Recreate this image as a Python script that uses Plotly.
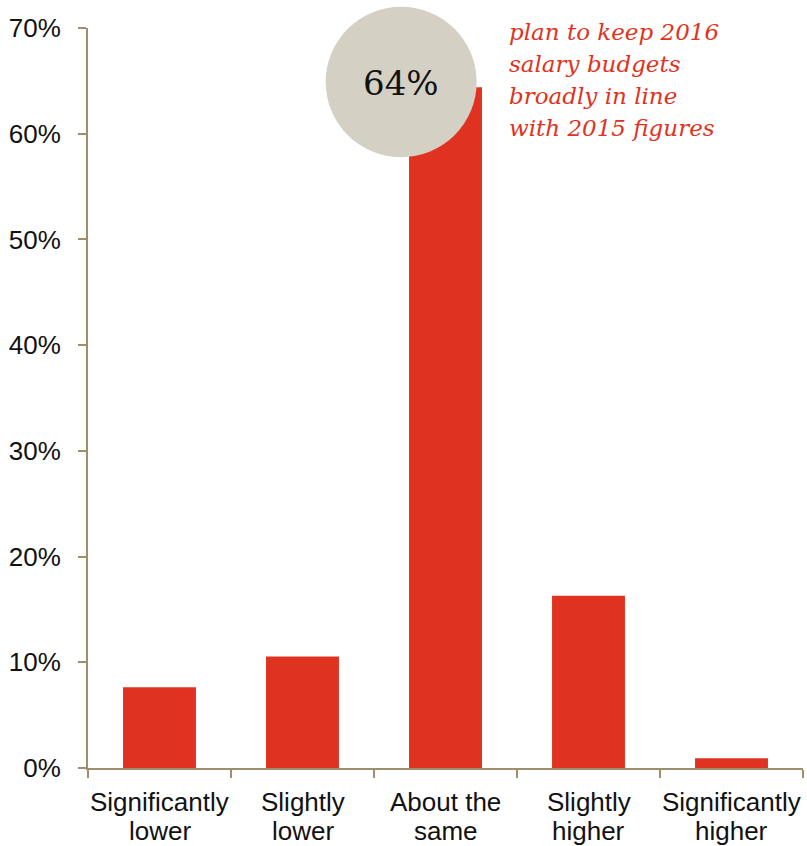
import plotly.graph_objects as go

categories = ["Significantly lower", "Slightly lower", "About the same",
              "Slightly higher", "Significantly higher"]
label_lines = [["Significantly", "lower"], ["Slightly", "lower"], ["About the", "same"],
               ["Slightly", "higher"], ["Significantly", "higher"]]
values = [7.65, 10.55, 64.4, 16.3, 0.92]
y_ticks = [0, 10, 20, 30, 40, 50, 60, 70]
y_tick_labels = [f"{v}%" for v in y_ticks]
callout_value = "64%"
callout_lines = ["plan to keep 2016", "salary budgets", "broadly in line", "with 2015 figures"]

RED = "#E03220"
AXIS = "#9C8E6E"
CIRCLE = "#D4D0C4"

fig = go.Figure(go.Bar(x=categories, y=values, marker=dict(color=RED, line=dict(width=0)),
                       width=0.51, hoverinfo="skip"))

fig.update_layout(
    width=807, height=846,
    margin=dict(l=88, r=4, t=28, b=78),
    paper_bgcolor="white", plot_bgcolor="white",
    showlegend=False,
    font=dict(family="Liberation Sans, Arial, sans-serif", size=26, color="#111"),
)
fig.update_xaxes(
    type="category", tickson="boundaries", ticks="outside", ticklen=8, tickwidth=2,
    tickcolor=AXIS, showline=True, linecolor=AXIS, linewidth=2, showgrid=False,
    showticklabels=False,
)
fig.update_yaxes(
    range=[0, 70], tickvals=y_ticks, ticktext=y_tick_labels, ticks="outside", ticklen=8,
    tickwidth=2, tickcolor=AXIS, showline=True, linecolor=AXIS, linewidth=2,
    showgrid=False, zeroline=False, tickfont=dict(size=26), ticklabelstandoff=12,
)

for cat, lines in zip(categories, label_lines):
    for j, line in enumerate(lines):
        fig.add_annotation(xref="x", yref="paper", x=cat,
                           y=(768 - 801.5 - 29 * j) / 740, text=line,
                           showarrow=False, xanchor="center", yanchor="middle",
                           font=dict(size=26, color="#111"))

fig.add_shape(type="circle", xref="paper", yref="paper",
              x0=0.3324, x1=0.5436, y0=0.8253, y1=1.0288,
              fillcolor=CIRCLE, line=dict(width=0), layer="above")
fig.add_annotation(xref="paper", yref="paper", x=0.438, y=0.9257, text=callout_value,
                   showarrow=False, xanchor="center", yanchor="middle",
                   font=dict(family="DejaVu Serif, serif", size=34, color="#111"))
for i, line in enumerate(callout_lines):
    fig.add_annotation(xref="paper", yref="paper", x=0.5860,
                       y=(768 - 32 - 32 * i) / 740, text=f"<i>{line}</i>",
                       showarrow=False, xanchor="left", yanchor="middle",
                       font=dict(family="DejaVu Serif, serif", size=23, color=RED))

fig.write_html("out.html")
